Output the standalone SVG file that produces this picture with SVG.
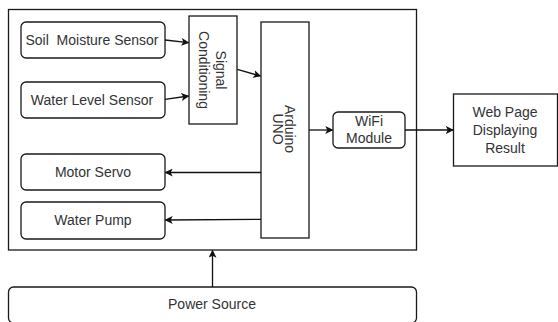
<svg xmlns="http://www.w3.org/2000/svg" width="558" height="322" viewBox="0 0 558 322">
<defs>
<style>
.box{fill:#fff;stroke:#1a1a1a;stroke-width:1.3}
.t{font-family:"Liberation Sans",Arial,sans-serif;font-size:14px;fill:#333;text-anchor:middle;dominant-baseline:central}
.c{fill:none;stroke:#111;stroke-width:1.3}
</style>
<marker id="ah" viewBox="0 0 10 10" refX="9" refY="5" markerWidth="8" markerHeight="8" markerUnits="userSpaceOnUse" orient="auto">
<path d="M0,0 L10,5 L0,10 L2.5,5 Z" fill="#111"/>
</marker>
</defs>
<rect width="558" height="322" fill="#fff"/>
<g id="system"><rect class="box" x="8.5" y="9.5" width="408" height="240.5"/></g>
<g id="soil"><rect class="box" x="21" y="22" width="144" height="36" rx="5"/><text class="t" x="92" y="40" xml:space="preserve">Soil  Moisture Sensor</text></g>
<g id="water-level"><rect class="box" x="21" y="82" width="144" height="36" rx="5"/><text class="t" x="92" y="100">Water Level Sensor</text></g>
<g id="signal"><rect class="box" x="189" y="16" width="48" height="108"/><text class="t" transform="translate(213 70) rotate(90)"><tspan x="0" y="-8">Signal</tspan><tspan x="0" y="9">Conditioning</tspan></text></g>
<g id="arduino"><rect class="box" x="261" y="22" width="48" height="216"/><text class="t" transform="translate(285 129) rotate(90)"><tspan x="0" y="-5">Arduino</tspan><tspan x="0" y="7">UNO</tspan></text></g>
<g id="motor"><rect class="box" x="21" y="154" width="144" height="36" rx="5"/><text class="t" x="93" y="172">Motor Servo</text></g>
<g id="pump"><rect class="box" x="21" y="202" width="144" height="37" rx="5"/><text class="t" x="93" y="220">Water Pump</text></g>
<g id="wifi"><rect class="box" x="333" y="112" width="72" height="36" rx="5"/><text class="t"><tspan x="369" y="121">WiFi</tspan><tspan x="369" y="138">Module</tspan></text></g>
<g id="web"><rect class="box" x="453.5" y="94" width="104" height="72"/><text class="t"><tspan x="505" y="112">Web Page</tspan><tspan x="505" y="130">Displaying</tspan><tspan x="505" y="148">Result</tspan></text></g>
<g id="power"><rect class="box" x="8.5" y="287" width="408" height="36" rx="5"/><text class="t" x="212" y="304">Power Source</text></g>
<g id="connectors">
<path class="c" d="M165 40 L188.5 42.7" marker-end="url(#ah)"/>
<path class="c" d="M165 99.3 L188.5 96" marker-end="url(#ah)"/>
<path class="c" d="M237.3 69.3 L260.5 76" marker-end="url(#ah)"/>
<path class="c" d="M309 130 L332.5 130" marker-end="url(#ah)"/>
<path class="c" d="M405 130 L453 130" marker-end="url(#ah)"/>
<path class="c" d="M261 172.5 L165.5 172.5" marker-end="url(#ah)"/>
<path class="c" d="M261 219.3 L165.5 220" marker-end="url(#ah)"/>
<path class="c" d="M212.5 287 L212.5 250.5" marker-end="url(#ah)"/>
</g>
</svg>
